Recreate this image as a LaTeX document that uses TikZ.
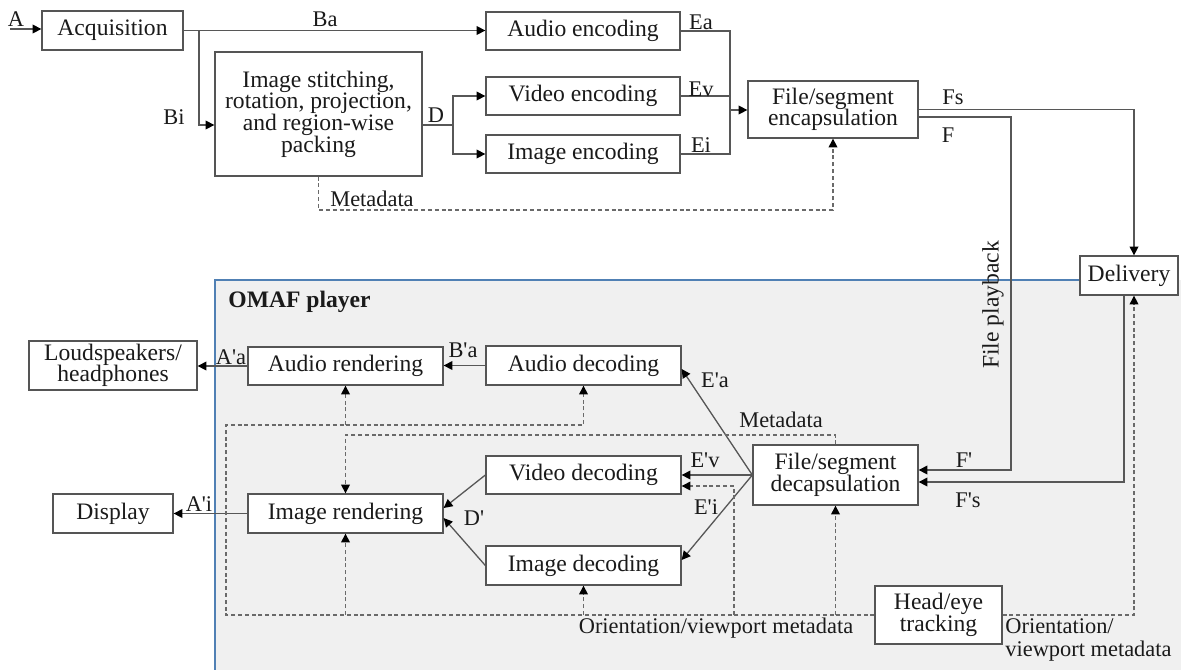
\documentclass[tikz,border=0pt]{standalone}
\usepackage{fontspec}
\setmainfont{Liberation Serif}
\usetikzlibrary{arrows.meta,calc}
\definecolor{boxc}{HTML}{555555}
\definecolor{linec}{HTML}{575757}
\definecolor{dashc}{HTML}{6A6A6A}
\definecolor{txt}{HTML}{1A1A1A}
\definecolor{playerbg}{HTML}{F0F0F0}
\definecolor{playerline}{HTML}{5080B4}
\newcommand{\q}{\textquotesingle}
\begin{document}
\begin{tikzpicture}[x=0.5pt,y=-0.5pt,
  box/.style={draw=boxc,fill=white,line width=0.65pt,inner sep=0pt,align=center,
    font=\fontsize{11.8}{10.8}\selectfont,text=txt},
  lbl/.style={font=\fontsize{11.2}{12}\selectfont,text=txt,inner sep=0pt},
  tip/.style={-{Triangle[length=4.4pt,width=4.4pt,color=black]}},
  ln/.style={draw=linec,line width=0.65pt},
  arr/.style={ln,tip},
  dln/.style={draw=dashc,line width=0.6pt,dash pattern=on 2pt off 1.4pt},
  darr/.style={dln,tip}]
\useasboundingbox (0,0) rectangle (1181,670);
\fill[white] (0,0) rectangle (1181,670);
% OMAF player region
\fill[playerbg] (215,280) rectangle (1181,670);
\draw[playerline,line width=0.8pt] (1080,280) -- (215,280) -- (215,670);
\node[lbl,anchor=west,font=\fontsize{11.8}{12}\selectfont\bfseries] (omaf) at (228,302) {OMAF player};

% boxes
\node[box,minimum width=70.5pt,minimum height=19.5pt] (acq) at (112.5,30.5) {Acquisition};
\node[box,minimum width=103.5pt,minimum height=62pt] (stitch) at (318.5,114) {Image stitching,\\rotation, projection,\\and region-wise\\packing};
\node[box,minimum width=97pt,minimum height=19pt] (aenc) at (583,31) {Audio encoding};
\node[box,minimum width=97pt,minimum height=19pt] (venc) at (583,96) {Video encoding};
\node[box,minimum width=97pt,minimum height=19pt] (ienc) at (583,154) {Image encoding};
\node[box,minimum width=85pt,minimum height=28.5pt] (encap) at (833,109.5) {File/segment\\encapsulation};
\node[box,minimum width=49pt,minimum height=19.5pt] (deliv) at (1129,275.5) {Delivery};
\node[box,minimum width=84pt,minimum height=24.5pt] (spk) at (113,365.5) {Loudspeakers/\\headphones};
\node[box,minimum width=97.5pt,minimum height=19pt] (arend) at (345.5,366) {Audio rendering};
\node[box,minimum width=97.5pt,minimum height=19.5pt] (adec) at (583.5,365.5) {Audio decoding};
\node[box,minimum width=97.5pt,minimum height=19pt] (vdec) at (583.5,475) {Video decoding};
\node[box,minimum width=97.5pt,minimum height=19.5pt] (idec) at (583.5,565.5) {Image decoding};
\node[box,minimum width=97.5pt,minimum height=19.5pt] (irend) at (345.5,513.5) {Image rendering};
\node[box,minimum width=60pt,minimum height=19.5pt] (disp) at (113,513.5) {Display};
\node[box,minimum width=82.5pt,minimum height=30pt] (decap) at (835.5,475) {File/segment\\decapsulation};

% coordinates
\coordinate (ain) at (10,29);
\coordinate (bi) at (199,125);
\coordinate (dsplit) at (453,125);
\coordinate (merge) at (730,110);
\coordinate (m1) at (318.5,210);
\coordinate (fp) at (1011,470);
\coordinate (fsp) at (1124,482);
\coordinate (o1) at (226,615);
\coordinate (o2) at (226,425);
\coordinate (md) at (345.5,435);
\coordinate (vd) at (734,615);

% encoding side
\draw[arr] (ain) -- (ain -| acq.west);
\draw[arr] (acq.east) -- (acq.east -| aenc.west);
\draw[arr] (acq.east) -| (bi) -- (bi -| stitch.west);
\draw[ln] (stitch.east |- dsplit) -- (dsplit);
\draw[arr] (dsplit) |- (venc.west);
\draw[arr] (dsplit) |- (ienc.west);
\draw[ln] (aenc.east) -| (merge);
\draw[ln] (ienc.east) -| (merge);
\draw[ln] (venc.east) -- (venc.east -| merge);
\draw[arr] (merge) -- (merge -| encap.west);
\draw[darr] (stitch.south) -- (m1) -| (encap.south);
\draw[arr] (encap.east) -| ([xshift=2.5pt]deliv.north);
\draw[arr] ([yshift=-3.75pt]encap.east) -| (fp) -- (fp -| decap.east);
\draw[arr] ([xshift=-2.5pt]deliv.south) |- (fsp -| decap.east);

% player internals
\draw[arr] (arend.west) -- (arend.west -| spk.east);
\draw[arr] (adec.west) -- (adec.west -| arend.east);
\draw[arr] (irend.west) -- (irend.west -| disp.east);
\draw[arr] (decap.west) -- ([yshift=-1.75pt]adec.east);
\draw[arr] (decap.west) -- (vdec.east);
\draw[arr] (decap.west) -- ([yshift=2.75pt]idec.east);
\draw[arr] (vdec.west) -- ([yshift=2.75pt]irend.east);
\draw[arr] (idec.west) -- ([yshift=-2.25pt]irend.east);

% head tracking
\node[box,minimum width=63.5pt,minimum height=29pt] (head) at (938.5,615) {Head/eye\\tracking};
\draw[darr] (head.west) -| (o2) -| (adec.south);
\draw[darr] (arend.south |- o2) -- (arend.south);
\draw[darr] (irend.south |- o1) -- (irend.south);
\draw[darr] (idec.south |- o1) -- (idec.south);
\draw[darr] (decap.south |- o1) -- (decap.south);
\draw[darr] (vd) |- ([yshift=-5.5pt]vdec.east);
\draw[darr] (decap.north) |- (md) -- (irend.north);
\draw[darr] (head.east) -| ([xshift=2.5pt]deliv.south);

% labels
\node[lbl] (la) at (16,19) {A};
\node[lbl] (lba) at (325,19) {Ba};
\node[lbl] (lbi) at (174,117) {Bi};
\node[lbl] (ld) at (436,115) {D};
\node[lbl] (lea) at (701,22) {Ea};
\node[lbl] (lev) at (701,89) {Ev};
\node[lbl] (lei) at (701,145) {Ei};
\node[lbl] (lmeta1) at (372,199) {Metadata};
\node[lbl] (lfs) at (953,97) {Fs};
\node[lbl] (lf) at (948,135) {F};
\node[lbl,rotate=90,font=\fontsize{11.8}{12}\selectfont] (lplay) at (993,305) {File playback};
\node[lbl] (laa) at (231,357) {A\q a};
\node[lbl] (lbpa) at (463,350) {B\q a};
\node[lbl] (lepa) at (715,380) {E\q a};
\node[lbl] (lmeta2) at (781,420) {Metadata};
\node[lbl] (lepv) at (705,460) {E\q v};
\node[lbl] (lepi) at (706,507) {E\q i};
\node[lbl] (ldp) at (474,518) {D\q};
\node[lbl] (lai) at (199,504) {A\q i};
\node[lbl] (lfp) at (964,460) {F\q};
\node[lbl] (lfps) at (968,500) {F\q s};
\node[lbl] (lor1) at (716,628) {Orientation/viewport metadata};
\node[lbl,anchor=north west,align=left,font=\fontsize{11.2}{11.8}\selectfont] (lor2) at (1005,618) {Orientation/\\viewport metadata};
\end{tikzpicture}
\end{document}
